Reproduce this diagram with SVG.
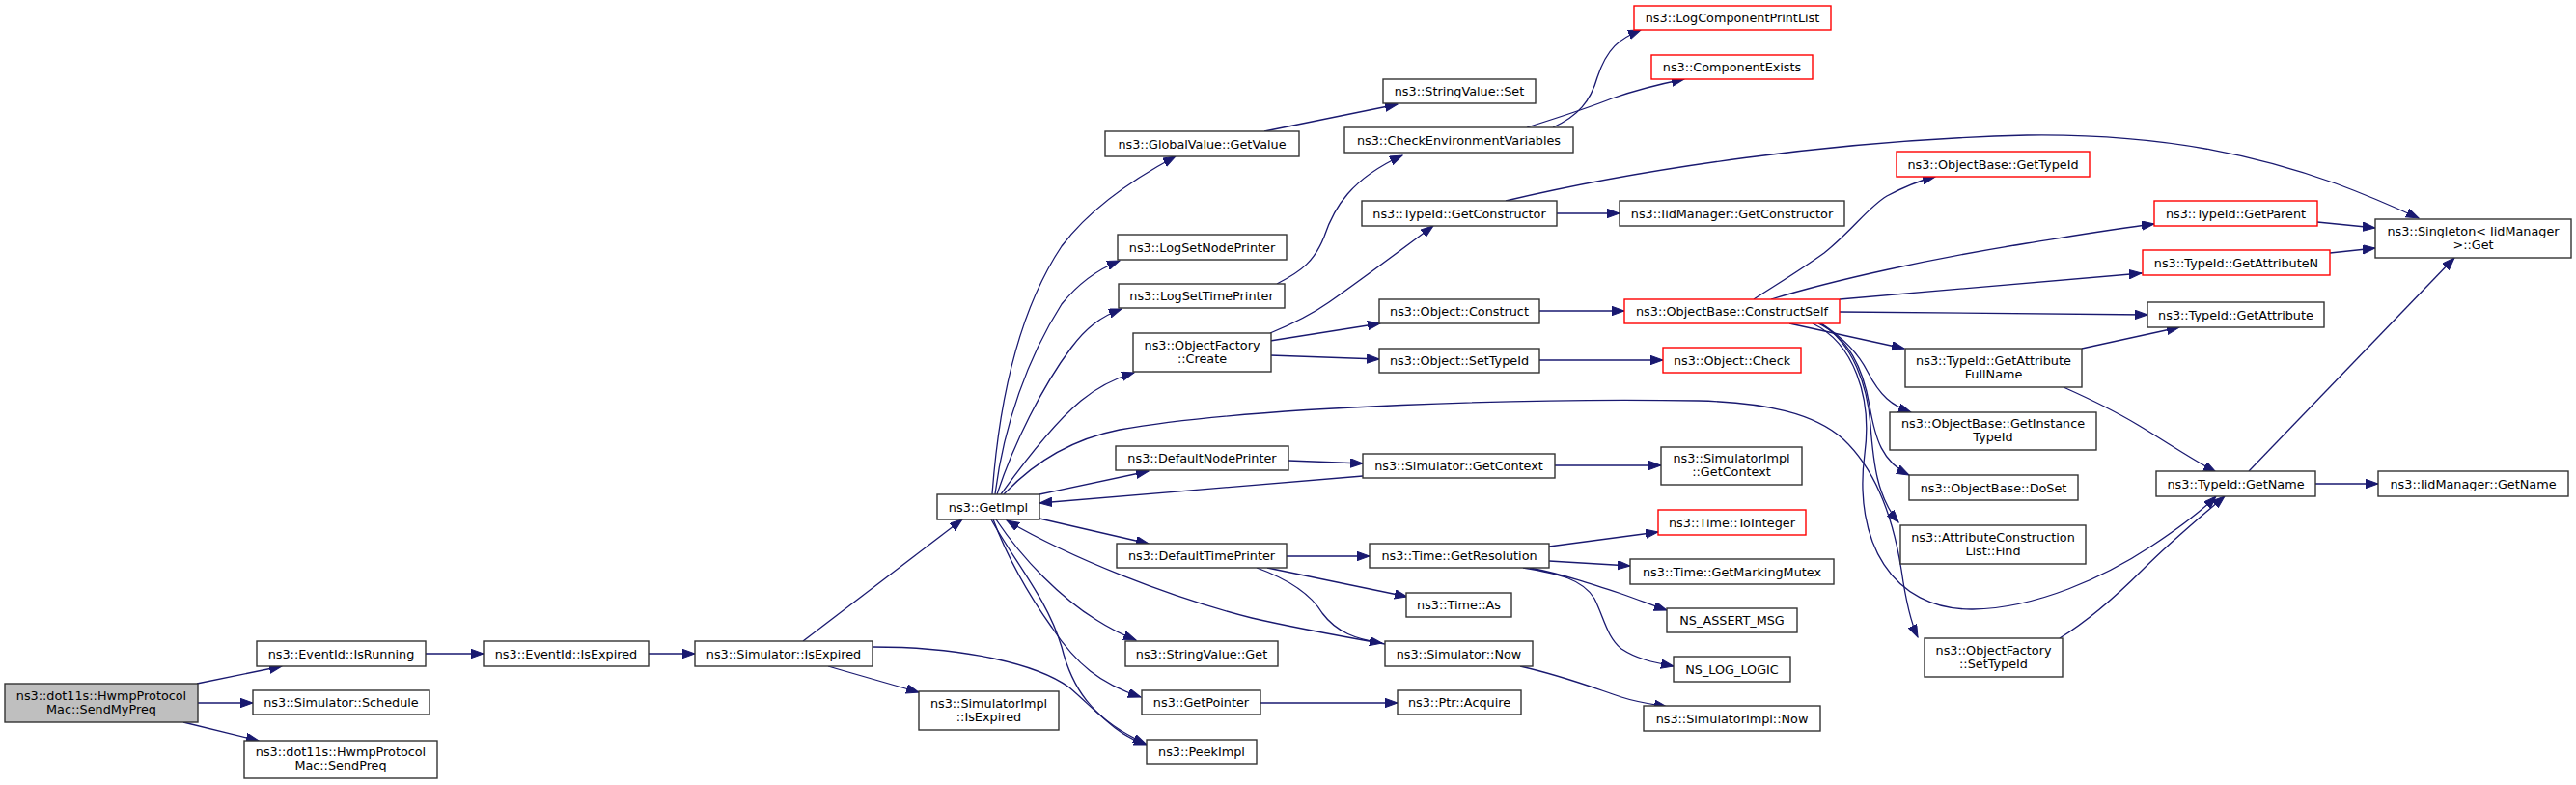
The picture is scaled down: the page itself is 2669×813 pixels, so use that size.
<svg xmlns="http://www.w3.org/2000/svg" width="2669" height="813" viewBox="0 0 2669 813">
<style>
.n rect{fill:#fff;stroke:#333;stroke-width:1.4}
.n.r rect{stroke:#ff0000}
.n.root rect{fill:#bfbfbf}
text{font-family:"DejaVu Sans","Liberation Sans",sans-serif;font-size:12.8px;text-anchor:middle;fill:#000}
.e path{fill:none;stroke:#191970;stroke-width:1.3;marker-end:url(#a)}
</style>
<defs>
<marker id="a" markerUnits="userSpaceOnUse" markerWidth="14" markerHeight="10" refX="13" refY="4.7" orient="auto"><path d="M0,0 L13,4.7 L0,9.4 z" fill="#191970" stroke="#191970" stroke-width="1"/></marker>
</defs>
<rect width="2669" height="813" fill="#fff"/>
<g id="edges" class="e">
<path d="M204,708 L292,690"/>
<path d="M205,728 L262,728"/>
<path d="M190,748 L268,767"/>
<path d="M441,677 L501,677"/>
<path d="M672,677 L720,677"/>
<path d="M832,664 L997,538"/>
<path d="M858,690 L952,717"/>
<path d="M904,670 C1000,670 1075,688 1108,712 C1135,735 1155,760 1188,772"/>
<path d="M1028,512 C1034,430 1050,330 1100,255 C1130,215 1175,185 1218,162"/>
<path d="M1031,512 C1040,440 1065,370 1100,315 C1120,290 1140,278 1160,270"/>
<path d="M1033,512 C1050,460 1080,400 1110,360 C1125,340 1140,328 1162,320"/>
<path d="M1037,512 C1060,480 1090,440 1120,415 C1138,400 1155,392 1175,386"/>
<path d="M1040,512 C1070,480 1110,455 1160,445 C1300,420 1600,412 1760,415 C1830,417 1880,428 1910,455 C1945,488 1962,540 1970,590 C1975,625 1980,645 1987,660"/>
<path d="M1077,512 L1190,488"/>
<path d="M1412,493 L1077,521"/>
<path d="M1077,537 L1190,563"/>
<path d="M1032,538 C1060,580 1100,620 1136,642 C1150,651 1162,657 1177,663"/>
<path d="M1029,538 C1045,580 1065,615 1090,650 C1115,688 1140,708 1182,722"/>
<path d="M1027,538 C1050,580 1085,620 1100,670 C1110,710 1130,745 1187,770"/>
<path d="M1435,667 C1390,659 1340,650 1297,640 C1210,618 1110,578 1043,539"/>
<path d="M1302,588 C1335,600 1358,615 1370,635 C1385,655 1405,662 1432,666"/>
<path d="M1313,588 L1458,618"/>
<path d="M1333,576 L1419,576"/>
<path d="M1335,477 L1412,480"/>
<path d="M1611,482 L1721,482"/>
<path d="M1605,566 L1718,551"/>
<path d="M1605,581 L1689,586"/>
<path d="M1585,588 C1620,595 1650,605 1680,615 C1700,622 1712,627 1727,632"/>
<path d="M1578,588 C1615,594 1640,600 1652,620 C1662,640 1665,660 1680,672 C1695,682 1712,686 1734,690"/>
<path d="M1575,690 C1620,700 1650,712 1680,722 C1695,727 1710,729 1727,732"/>
<path d="M1306,728 L1448,728"/>
<path d="M1310,136 L1448,108"/>
<path d="M1323,294 C1350,280 1362,270 1372,245 C1382,215 1400,185 1453,161"/>
<path d="M1609,132 C1635,120 1648,105 1655,80 C1665,50 1678,40 1700,31"/>
<path d="M1582,132 C1620,120 1645,112 1670,102 C1690,95 1715,88 1745,82"/>
<path d="M1316,345 C1345,333 1360,325 1377,313 C1410,290 1450,260 1485,234"/>
<path d="M1316,353 L1430,335"/>
<path d="M1316,368 L1429,372"/>
<path d="M1613,221 L1678,221"/>
<path d="M1560,208 C1700,175 1900,145 2100,140 C2250,138 2350,165 2420,190 C2455,203 2480,214 2506,226"/>
<path d="M1595,322 L1683,322"/>
<path d="M1595,373 L1723,373"/>
<path d="M1817,310 C1840,295 1865,280 1890,262 C1920,238 1935,215 1955,203 C1970,195 1985,188 2005,183"/>
<path d="M1835,310 C1900,290 2000,268 2100,252 C2150,244 2190,237 2232,232"/>
<path d="M1906,310 L2219,283"/>
<path d="M1906,323 L2225,326"/>
<path d="M1854,335 L1973,361"/>
<path d="M1887,335 C1910,350 1925,365 1935,385 C1948,410 1960,420 1980,427"/>
<path d="M1884,335 C1915,350 1930,380 1937,420 C1943,455 1950,478 1978,492"/>
<path d="M1886,335 C1920,355 1935,400 1938,440 C1941,480 1945,515 1967,541"/>
<path d="M1878,335 C1920,355 1940,410 1932,470 C1920,560 1960,632 2044,631 C2110,630 2180,598 2230,565 C2260,545 2280,530 2296,514"/>
<path d="M2157,361 L2258,339"/>
<path d="M2138,401 C2165,413 2190,425 2215,440 C2245,458 2270,475 2296,489"/>
<path d="M2134,661 C2160,645 2190,620 2220,590 C2250,560 2280,535 2305,514"/>
<path d="M2401,230 L2461,236"/>
<path d="M2414,262 L2461,257"/>
<path d="M2330,488 L2543,267"/>
<path d="M2399,501 L2464,501"/>
</g>
<g id="n_SendMyPreq" class="n root"><rect x="5" y="708" width="200" height="40"/><text x="105" y="724.6">ns3::dot11s::HwmpProtocol</text><text x="105" y="738.9">Mac::SendMyPreq</text></g>
<g id="n_IsRunning" class="n"><rect x="266" y="664" width="175" height="26"/><text x="353.5" y="681.5">ns3::EventId::IsRunning</text></g>
<g id="n_Schedule" class="n"><rect x="262" y="715" width="183" height="25"/><text x="353.5" y="732">ns3::Simulator::Schedule</text></g>
<g id="n_SendPreq" class="n"><rect x="253" y="767" width="200" height="39"/><text x="353" y="783.1">ns3::dot11s::HwmpProtocol</text><text x="353" y="797.4">Mac::SendPreq</text></g>
<g id="n_EvIsExpired" class="n"><rect x="501" y="664" width="171" height="26"/><text x="586.5" y="681.5">ns3::EventId::IsExpired</text></g>
<g id="n_SimIsExpired" class="n"><rect x="720" y="664" width="184" height="26"/><text x="812" y="681.5">ns3::Simulator::IsExpired</text></g>
<g id="n_SimImplIsExpired" class="n"><rect x="952" y="716" width="145" height="40"/><text x="1024.5" y="732.6">ns3::SimulatorImpl</text><text x="1024.5" y="746.9">::IsExpired</text></g>
<g id="n_GetImpl" class="n"><rect x="971" y="512" width="106" height="26"/><text x="1024" y="529.5">ns3::GetImpl</text></g>
<g id="n_GlobalValueGetValue" class="n"><rect x="1145" y="136" width="201" height="26"/><text x="1245.5" y="153.5">ns3::GlobalValue::GetValue</text></g>
<g id="n_LogSetNodePrinter" class="n"><rect x="1158" y="243" width="175" height="26"/><text x="1245.5" y="260.5">ns3::LogSetNodePrinter</text></g>
<g id="n_LogSetTimePrinter" class="n"><rect x="1159" y="294" width="172" height="25"/><text x="1245" y="311">ns3::LogSetTimePrinter</text></g>
<g id="n_ObjectFactoryCreate" class="n"><rect x="1174" y="345" width="143" height="40"/><text x="1245.5" y="361.6">ns3::ObjectFactory</text><text x="1245.5" y="375.9">::Create</text></g>
<g id="n_DefaultNodePrinter" class="n"><rect x="1156" y="462" width="179" height="25"/><text x="1245.5" y="479">ns3::DefaultNodePrinter</text></g>
<g id="n_DefaultTimePrinter" class="n"><rect x="1157" y="563" width="176" height="25"/><text x="1245" y="580">ns3::DefaultTimePrinter</text></g>
<g id="n_StringValueGet" class="n"><rect x="1166" y="664" width="158" height="26"/><text x="1245" y="681.5">ns3::StringValue::Get</text></g>
<g id="n_GetPointer" class="n"><rect x="1183" y="715" width="123" height="25"/><text x="1244.5" y="732">ns3::GetPointer</text></g>
<g id="n_PeekImpl" class="n"><rect x="1188" y="766" width="114" height="25"/><text x="1245" y="783">ns3::PeekImpl</text></g>
<g id="n_StringValueSet" class="n"><rect x="1433" y="82" width="158" height="25"/><text x="1512" y="99">ns3::StringValue::Set</text></g>
<g id="n_CheckEnv" class="n"><rect x="1393" y="132" width="237" height="26"/><text x="1511.5" y="149.5">ns3::CheckEnvironmentVariables</text></g>
<g id="n_LogComponentPrintList" class="n r"><rect x="1693" y="6" width="204" height="25"/><text x="1795" y="23">ns3::LogComponentPrintList</text></g>
<g id="n_ComponentExists" class="n r"><rect x="1711" y="57" width="167" height="25"/><text x="1794.5" y="74">ns3::ComponentExists</text></g>
<g id="n_GetConstructor" class="n"><rect x="1411" y="208" width="202" height="26"/><text x="1512" y="225.5">ns3::TypeId::GetConstructor</text></g>
<g id="n_IidGetConstructor" class="n"><rect x="1678" y="208" width="233" height="26"/><text x="1794.5" y="225.5">ns3::IidManager::GetConstructor</text></g>
<g id="n_ObjectConstruct" class="n"><rect x="1429" y="310" width="166" height="25"/><text x="1512" y="327">ns3::Object::Construct</text></g>
<g id="n_ObjectSetTypeId" class="n"><rect x="1429" y="361" width="166" height="25"/><text x="1512" y="378">ns3::Object::SetTypeId</text></g>
<g id="n_ConstructSelf" class="n r"><rect x="1683" y="310" width="223" height="25"/><text x="1794.5" y="327">ns3::ObjectBase::ConstructSelf</text></g>
<g id="n_ObjectCheck" class="n r"><rect x="1723" y="360" width="143" height="26"/><text x="1794.5" y="377.5">ns3::Object::Check</text></g>
<g id="n_SimGetContext" class="n"><rect x="1412" y="470" width="199" height="25"/><text x="1511.5" y="487">ns3::Simulator::GetContext</text></g>
<g id="n_SimImplGetContext" class="n"><rect x="1721" y="463" width="146" height="39"/><text x="1794" y="479.1">ns3::SimulatorImpl</text><text x="1794" y="493.4">::GetContext</text></g>
<g id="n_GetResolution" class="n"><rect x="1419" y="563" width="186" height="25"/><text x="1512" y="580">ns3::Time::GetResolution</text></g>
<g id="n_TimeAs" class="n"><rect x="1457" y="614" width="109" height="25"/><text x="1511.5" y="631">ns3::Time::As</text></g>
<g id="n_SimNow" class="n"><rect x="1435" y="664" width="153" height="26"/><text x="1511.5" y="681.5">ns3::Simulator::Now</text></g>
<g id="n_PtrAcquire" class="n"><rect x="1448" y="715" width="128" height="25"/><text x="1512" y="732">ns3::Ptr::Acquire</text></g>
<g id="n_ToInteger" class="n r"><rect x="1718" y="528" width="153" height="26"/><text x="1794.5" y="545.5">ns3::Time::ToInteger</text></g>
<g id="n_GetMarkingMutex" class="n"><rect x="1689" y="579" width="211" height="26"/><text x="1794.5" y="596.5">ns3::Time::GetMarkingMutex</text></g>
<g id="n_NSAssertMsg" class="n"><rect x="1727" y="630" width="135" height="25"/><text x="1794.5" y="647">NS_ASSERT_MSG</text></g>
<g id="n_NSLogLogic" class="n"><rect x="1734" y="680" width="121" height="26"/><text x="1794.5" y="697.5">NS_LOG_LOGIC</text></g>
<g id="n_SimImplNow" class="n"><rect x="1703" y="731" width="183" height="26"/><text x="1794.5" y="748.5">ns3::SimulatorImpl::Now</text></g>
<g id="n_ObjectBaseGetTypeId" class="n r"><rect x="1965" y="157" width="200" height="26"/><text x="2065" y="174.5">ns3::ObjectBase::GetTypeId</text></g>
<g id="n_GetAttributeFullName" class="n"><rect x="1974" y="361" width="183" height="40"/><text x="2065.5" y="377.6">ns3::TypeId::GetAttribute</text><text x="2065.5" y="391.9">FullName</text></g>
<g id="n_GetInstanceTypeId" class="n"><rect x="1958" y="427" width="214" height="39"/><text x="2065" y="443.1">ns3::ObjectBase::GetInstance</text><text x="2065" y="457.4">TypeId</text></g>
<g id="n_DoSet" class="n"><rect x="1978" y="492" width="175" height="26"/><text x="2065.5" y="509.5">ns3::ObjectBase::DoSet</text></g>
<g id="n_Find" class="n"><rect x="1969" y="544" width="192" height="40"/><text x="2065" y="560.6">ns3::AttributeConstruction</text><text x="2065" y="574.9">List::Find</text></g>
<g id="n_OFSetTypeId" class="n"><rect x="1994" y="661" width="143" height="40"/><text x="2065.5" y="677.6">ns3::ObjectFactory</text><text x="2065.5" y="691.9">::SetTypeId</text></g>
<g id="n_GetParent" class="n r"><rect x="2232" y="208" width="169" height="26"/><text x="2316.5" y="225.5">ns3::TypeId::GetParent</text></g>
<g id="n_GetAttributeN" class="n r"><rect x="2220" y="259" width="194" height="26"/><text x="2317" y="276.5">ns3::TypeId::GetAttributeN</text></g>
<g id="n_GetAttribute" class="n"><rect x="2225" y="313" width="183" height="26"/><text x="2316.5" y="330.5">ns3::TypeId::GetAttribute</text></g>
<g id="n_Singleton" class="n"><rect x="2461" y="227" width="203" height="40"/><text x="2562.5" y="243.6">ns3::Singleton&lt; IidManager</text><text x="2562.5" y="257.9">&gt;::Get</text></g>
<g id="n_GetName" class="n"><rect x="2234" y="488" width="165" height="26"/><text x="2316.5" y="505.5">ns3::TypeId::GetName</text></g>
<g id="n_IidGetName" class="n"><rect x="2464" y="488" width="197" height="26"/><text x="2562.5" y="505.5">ns3::IidManager::GetName</text></g>
</svg>
